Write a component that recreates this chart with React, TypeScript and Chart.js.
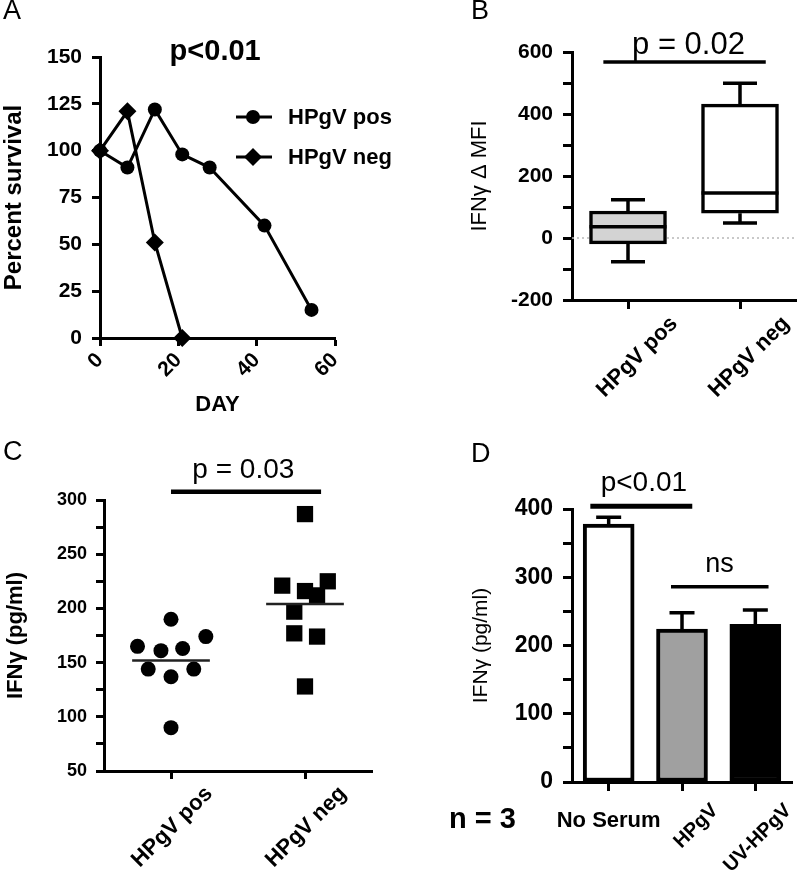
import React, { useEffect, useRef } from 'react';
import { Chart, registerables } from 'chart.js';

Chart.register(...registerables);

const FONT = '"Liberation Sans", Arial, Helvetica, sans-serif';
Chart.defaults.font.family = FONT;
Chart.defaults.color = '#000';

// ---------- Panel A: survival ----------
const seriesLabelsA = ['HPgV pos', 'HPgV neg'];
const survivalDaysPos = [0, 7, 14, 21, 28, 42, 54];
const survivalPos = [100, 91, 122, 98, 91, 60, 15];
const survivalDaysNeg = [0, 7, 14, 21];
const survivalNeg = [100, 121, 51, 0];

// ---------- Panel B: box plot ----------
const groupsB = ['HPgV pos', 'HPgV neg'];
const boxMin = [-77, 48];
const boxQ1 = [-19, 80];
const boxMedian = [36, 145];
const boxQ3 = [87, 432];
const boxMax = [123, 499];

// ---------- Panel C: scatter ----------
const groupsC = ['HPgV pos', 'HPgV neg'];
const ifnPos = [190, 165, 161, 163, 174, 144, 137, 144, 90];
const ifnPosX = [1.0, 0.75, 0.925, 1.087, 1.26, 0.83, 1.0, 1.17, 1.0];
const ifnNeg = [287, 221, 216, 225, 212, 197, 177, 174, 128];
const ifnNegX = [2.0, 1.83, 2.0, 2.17, 2.09, 1.92, 1.92, 2.09, 2.0];
const meanC = [152, 204];

// ---------- Panel D: bars ----------
const groupsD = ['No Serum', 'HPgV', 'UV-HPgV'];
const meansD = [378, 224, 231];
const errD = [10, 24, 21];
const colorsD = ['#ffffff', '#a0a0a0', '#000000'];

const BLACK = '#000';

function axisStyle(tickLength: number) {
  return {
    border: { display: true, color: BLACK, width: 3 },
    grid: {
      display: true,
      drawOnChartArea: false,
      drawTicks: true,
      tickLength,
      tickWidth: 3,
      tickColor: BLACK,
      color: BLACK,
      offset: false,
    },
  };
}

type Sig = {
  x1?: number; x2?: number; y?: number; lw?: number;
  text?: string; tx?: number; ty?: number; font?: string;
};

function sigPlugin(id: string, items: Sig[]) {
  return {
    id,
    afterDraw(chart: any) {
      const { ctx } = chart;
      const xs = chart.scales.x;
      const ys = chart.scales.y;
      ctx.save();
      for (const it of items) {
        if (it.x1 !== undefined && it.x2 !== undefined && it.y !== undefined) {
          const y = ys.getPixelForValue(it.y);
          ctx.beginPath();
          ctx.lineWidth = it.lw || 3;
          ctx.strokeStyle = BLACK;
          ctx.moveTo(xs.getPixelForValue(it.x1), y);
          ctx.lineTo(xs.getPixelForValue(it.x2), y);
          ctx.stroke();
        }
        if (it.text && it.tx !== undefined && it.ty !== undefined) {
          ctx.font = it.font || `26px ${FONT}`;
          ctx.fillStyle = BLACK;
          ctx.textAlign = 'center';
          ctx.textBaseline = 'middle';
          ctx.fillText(it.text, xs.getPixelForValue(it.tx), ys.getPixelForValue(it.ty));
        }
      }
      ctx.restore();
    },
  };
}

const legendPluginA = {
  id: 'legendA',
  afterDraw(chart: any) {
    const { ctx } = chart;
    ctx.save();
    const rows = [
      { y: 117, style: 'circle' },
      { y: 157, style: 'diamond' },
    ];
    rows.forEach((r, i) => {
      ctx.strokeStyle = BLACK;
      ctx.fillStyle = BLACK;
      ctx.lineWidth = 3;
      ctx.beginPath();
      ctx.moveTo(236, r.y);
      ctx.lineTo(272, r.y);
      ctx.stroke();
      ctx.beginPath();
      if (r.style === 'circle') {
        ctx.arc(253, r.y, 7, 0, Math.PI * 2);
      } else {
        ctx.moveTo(253, r.y - 9);
        ctx.lineTo(262, r.y);
        ctx.lineTo(253, r.y + 9);
        ctx.lineTo(244, r.y);
        ctx.closePath();
      }
      ctx.fill();
      ctx.font = `bold 22px ${FONT}`;
      ctx.textAlign = 'left';
      ctx.textBaseline = 'middle';
      ctx.fillText(chart.data.datasets[i].label, 288, r.y + 1);
    });
    ctx.restore();
  },
};

const buildA = () => ({
  type: 'line',
  data: {
    datasets: [
      {
        label: seriesLabelsA[0],
        data: survivalDaysPos.map((d, i) => ({ x: d, y: survivalPos[i] })),
        borderColor: BLACK, backgroundColor: BLACK, borderWidth: 3,
        pointStyle: 'circle', pointRadius: 7, pointBorderWidth: 0, tension: 0, clip: false,
      },
      {
        label: seriesLabelsA[1],
        data: survivalDaysNeg.map((d, i) => ({ x: d, y: survivalNeg[i] })),
        borderColor: BLACK, backgroundColor: BLACK, borderWidth: 3,
        pointStyle: 'rectRot', pointRadius: 9, pointBorderWidth: 0, tension: 0, clip: false,
      },
    ],
  },
  options: {
    animation: false,
    responsive: false,
    layout: { padding: { left: 0, top: 57, right: 65, bottom: 0 } },
    plugins: { legend: { display: false }, tooltip: { enabled: false } },
    scales: {
      x: {
        type: 'linear', min: 0, max: 60, ...axisStyle(8),
        ticks: { stepSize: 20, autoSkip: false, minRotation: 45, maxRotation: 45, color: BLACK, font: { size: 21, weight: 'bold' }, padding: 2 },
        title: { display: true, text: 'DAY', color: BLACK, font: { size: 22, weight: 'bold' }, padding: { top: 0, bottom: 22 } },
        afterFit: (s: any) => { s.height = 102; },
      },
      y: {
        type: 'linear', min: 0, max: 150, ...axisStyle(8),
        ticks: { stepSize: 25, color: BLACK, font: { size: 21, weight: 'bold' }, padding: 10 },
        title: { display: true, text: 'Percent survival', color: BLACK, font: { size: 24, weight: 'bold' }, padding: { top: 0, bottom: 0 } },
        afterFit: (s: any) => { s.width = 100; },
      },
    },
  },
  plugins: [
    legendPluginA,
    sigPlugin('sigA', [{ text: 'p<0.01', tx: 29.4, ty: 152.5, font: `bold 29px ${FONT}` }]),
  ],
});

const boxPluginB = {
  id: 'boxB',
  beforeDatasetsDraw(chart: any) {
    const { ctx, chartArea } = chart;
    const xs = chart.scales.x;
    const ys = chart.scales.y;
    ctx.save();
    const y0 = ys.getPixelForValue(0);
    ctx.strokeStyle = '#b8b8b8';
    ctx.lineWidth = 1.5;
    ctx.setLineDash([2, 3]);
    ctx.beginPath();
    ctx.moveTo(chartArea.left, y0);
    ctx.lineTo(chartArea.right, y0);
    ctx.stroke();
    ctx.setLineDash([]);
    ctx.strokeStyle = BLACK;
    ctx.lineWidth = 3.5;
    groupsB.forEach((_, i) => {
      const x = xs.getPixelForValue(i);
      const yMin = ys.getPixelForValue(boxMin[i]);
      const yMax = ys.getPixelForValue(boxMax[i]);
      const yQ1 = ys.getPixelForValue(boxQ1[i]);
      const yQ3 = ys.getPixelForValue(boxQ3[i]);
      const cap = 17;
      ctx.beginPath();
      ctx.moveTo(x, yQ3); ctx.lineTo(x, yMax);
      ctx.moveTo(x - cap, yMax); ctx.lineTo(x + cap, yMax);
      ctx.moveTo(x, yQ1); ctx.lineTo(x, yMin);
      ctx.moveTo(x - cap, yMin); ctx.lineTo(x + cap, yMin);
      ctx.stroke();
    });
    ctx.restore();
  },
  afterDatasetsDraw(chart: any) {
    const { ctx } = chart;
    const ys = chart.scales.y;
    const meta = chart.getDatasetMeta(0);
    ctx.save();
    ctx.strokeStyle = BLACK;
    ctx.lineWidth = 3.5;
    meta.data.forEach((bar: any, i: number) => {
      const y = ys.getPixelForValue(boxMedian[i]);
      ctx.beginPath();
      ctx.moveTo(bar.x - bar.width / 2, y);
      ctx.lineTo(bar.x + bar.width / 2, y);
      ctx.stroke();
    });
    ctx.restore();
  },
};

const buildB = () => ({
  type: 'bar',
  data: {
    labels: groupsB,
    datasets: [
      {
        label: 'IFNγ Δ MFI',
        data: groupsB.map((_, i) => [boxQ1[i], boxQ3[i]]),
        backgroundColor: ['#d3d3d3', '#ffffff'],
        borderColor: BLACK,
        borderWidth: 3.5,
        borderSkipped: false,
        barThickness: 77,
      },
    ],
  },
  options: {
    animation: false,
    responsive: false,
    layout: { padding: { left: 0, top: 52, right: 4, bottom: 0 } },
    plugins: { legend: { display: false }, tooltip: { enabled: false } },
    scales: {
      x: {
        type: 'category', ...axisStyle(9),
        ticks: { autoSkip: false, minRotation: 45, maxRotation: 45, color: BLACK, font: { size: 22, weight: 'bold' }, padding: 2, labelOffset: 46 },
        afterFit: (s: any) => { s.height = 140; },
      },
      y: {
        type: 'linear', min: -200, max: 600, ...axisStyle(9),
        ticks: { stepSize: 100, color: BLACK, font: { size: 21, weight: 'bold' }, padding: 10, callback: (v: any) => (v % 200 === 0 ? String(v) : '') },
        title: { display: true, text: 'IFNγ Δ MFI', color: BLACK, font: { size: 22 }, padding: { top: 67, bottom: 0 } },
        afterFit: (s: any) => { s.width = 172; },
      },
    },
  },
  plugins: [
    boxPluginB,
    sigPlugin('sigB', [{ x1: -0.22, x2: 1.23, y: 568, lw: 3.5, text: 'p = 0.02', tx: 0.54, ty: 620, font: `31px ${FONT}` }]),
  ],
});

const buildC = () => ({
  type: 'scatter',
  data: {
    datasets: [
      {
        type: 'line', label: 'mean pos',
        data: [{ x: 1 - 0.29, y: meanC[0] }, { x: 1 + 0.29, y: meanC[0] }],
        borderColor: '#222', borderWidth: 2.5, pointRadius: 0, showLine: true, clip: false,
      },
      {
        type: 'line', label: 'mean neg',
        data: [{ x: 2 - 0.29, y: meanC[1] }, { x: 2 + 0.29, y: meanC[1] }],
        borderColor: '#222', borderWidth: 2.5, pointRadius: 0, showLine: true, clip: false,
      },
      {
        label: groupsC[0],
        data: ifnPos.map((v, i) => ({ x: ifnPosX[i], y: v })),
        backgroundColor: BLACK, borderColor: BLACK, pointStyle: 'circle', pointRadius: 7.5, pointBorderWidth: 0, clip: false,
      },
      {
        label: groupsC[1],
        data: ifnNeg.map((v, i) => ({ x: ifnNegX[i], y: v })),
        backgroundColor: BLACK, borderColor: BLACK, pointStyle: 'rect', pointRadius: 11.5, pointBorderWidth: 0, clip: false,
      },
    ],
  },
  options: {
    animation: false,
    responsive: false,
    layout: { padding: { left: 0, top: 60, right: 28, bottom: 0 } },
    plugins: { legend: { display: false }, tooltip: { enabled: false } },
    scales: {
      x: {
        type: 'linear', min: 0.5, max: 2.5, ...axisStyle(8),
        afterBuildTicks: (s: any) => { s.ticks = [{ value: 1 }, { value: 2 }]; },
        ticks: { autoSkip: false, minRotation: 45, maxRotation: 45, color: BLACK, font: { size: 22, weight: 'bold' }, padding: 2, labelOffset: 38, callback: (v: any) => groupsC[Math.round(v) - 1] || '' },
        afterFit: (s: any) => { s.height = 109; },
      },
      y: {
        type: 'linear', min: 50, max: 300, ...axisStyle(8),
        ticks: { stepSize: 25, color: BLACK, font: { size: 18, weight: 'bold' }, padding: 9, callback: (v: any) => (v % 50 === 0 ? String(v) : '') },
        title: { display: true, text: 'IFNγ (pg/ml)', color: BLACK, font: { size: 22, weight: 'bold' }, padding: { top: 3, bottom: 0 } },
        afterFit: (s: any) => { s.width = 104; },
      },
    },
  },
  plugins: [
    sigPlugin('sigC', [{ x1: 1.0, x2: 2.12, y: 307.6, lw: 4.5, text: 'p = 0.03', tx: 1.54, ty: 327, font: `28px ${FONT}` }]),
  ],
});

const errPluginD = {
  id: 'errD',
  afterDatasetsDraw(chart: any) {
    const { ctx } = chart;
    const ys = chart.scales.y;
    const meta = chart.getDatasetMeta(0);
    ctx.save();
    ctx.strokeStyle = BLACK;
    ctx.lineWidth = 3.5;
    meta.data.forEach((bar: any, i: number) => {
      const yTop = ys.getPixelForValue(meansD[i] + errD[i]);
      ctx.beginPath();
      ctx.moveTo(bar.x, bar.y);
      ctx.lineTo(bar.x, yTop);
      ctx.moveTo(bar.x - 12.5, yTop);
      ctx.lineTo(bar.x + 12.5, yTop);
      ctx.stroke();
    });
    ctx.restore();
  },
  afterDraw(chart: any) {
    const { ctx } = chart;
    const xs = chart.scales.x;
    ctx.save();
    ctx.font = `bold 22px ${FONT}`;
    ctx.fillStyle = BLACK;
    ctx.textAlign = 'center';
    ctx.textBaseline = 'middle';
    ctx.fillText(groupsD[0], xs.getPixelForValue(0), 381);
    ctx.restore();
  },
};

const buildD = () => ({
  type: 'bar',
  data: {
    labels: groupsD,
    datasets: [
      {
        label: 'IFNγ (pg/ml)',
        data: meansD,
        backgroundColor: colorsD,
        borderColor: BLACK,
        borderWidth: 4,
        borderSkipped: false,
        barThickness: 51,
      },
    ],
  },
  options: {
    animation: false,
    responsive: false,
    layout: { padding: { left: 0, top: 69, right: 8, bottom: 0 } },
    plugins: { legend: { display: false }, tooltip: { enabled: false } },
    scales: {
      x: {
        type: 'category', ...axisStyle(9),
        ticks: { autoSkip: false, minRotation: 45, maxRotation: 45, color: BLACK, font: { size: 20, weight: 'bold' }, padding: 8, labelOffset: 33, callback: (_v: any, i: number) => (i === 0 ? '' : groupsD[i]) },
        afterFit: (s: any) => { s.height = 98; },
      },
      y: {
        type: 'linear', min: 0, max: 400, ...axisStyle(9),
        ticks: { stepSize: 50, color: BLACK, font: { size: 23, weight: 'bold' }, padding: 10, callback: (v: any) => (v % 100 === 0 ? String(v) : '') },
        title: { display: true, text: 'IFNγ (pg/ml)', color: BLACK, font: { size: 21 }, padding: { top: 69, bottom: 0 } },
        afterFit: (s: any) => { s.width = 172; },
      },
    },
  },
  plugins: [
    errPluginD,
    sigPlugin('sigD', [
      { x1: -0.25, x2: 1.14, y: 404, lw: 5, text: 'p<0.01', tx: 0.48, ty: 438, font: `28px ${FONT}` },
      { x1: 0.85, x2: 2.18, y: 286, lw: 3.5, text: 'ns', tx: 1.51, ty: 319, font: `27px ${FONT}` },
    ]),
  ],
});

function ChartPanel({ left, top, build }: { left: number; top: number; build: () => any }) {
  const ref = useRef<HTMLCanvasElement>(null);
  useEffect(() => {
    const chart = new Chart(ref.current as HTMLCanvasElement, build());
    return () => chart.destroy();
  }, []);
  return (
    <canvas
      ref={ref}
      width={400}
      height={440}
      style={{ position: 'absolute', left, top, width: 400, height: 440 }}
    />
  );
}

const letterStyle = (left: number, top: number): React.CSSProperties => ({
  position: 'absolute', left, top, fontFamily: FONT, fontSize: 27, lineHeight: '27px', color: '#000',
});

export default function App() {
  return (
    <div style={{ position: 'absolute', left: 0, top: 0, width: 800, height: 880, background: '#fff', overflow: 'hidden' }}>
      <ChartPanel left={0} top={0} build={buildA} />
      <ChartPanel left={400} top={0} build={buildB} />
      <ChartPanel left={0} top={440} build={buildC} />
      <ChartPanel left={400} top={440} build={buildD} />
      <div style={letterStyle(3, -3)}>A</div>
      <div style={letterStyle(471, -3)}>B</div>
      <div style={letterStyle(3, 438)}>C</div>
      <div style={letterStyle(471, 440)}>D</div>
      <div style={{ position: 'absolute', left: 449, top: 804, fontFamily: FONT, fontWeight: 'bold', fontSize: 29, lineHeight: '29px', color: '#000' }}>n = 3</div>
    </div>
  );
}
